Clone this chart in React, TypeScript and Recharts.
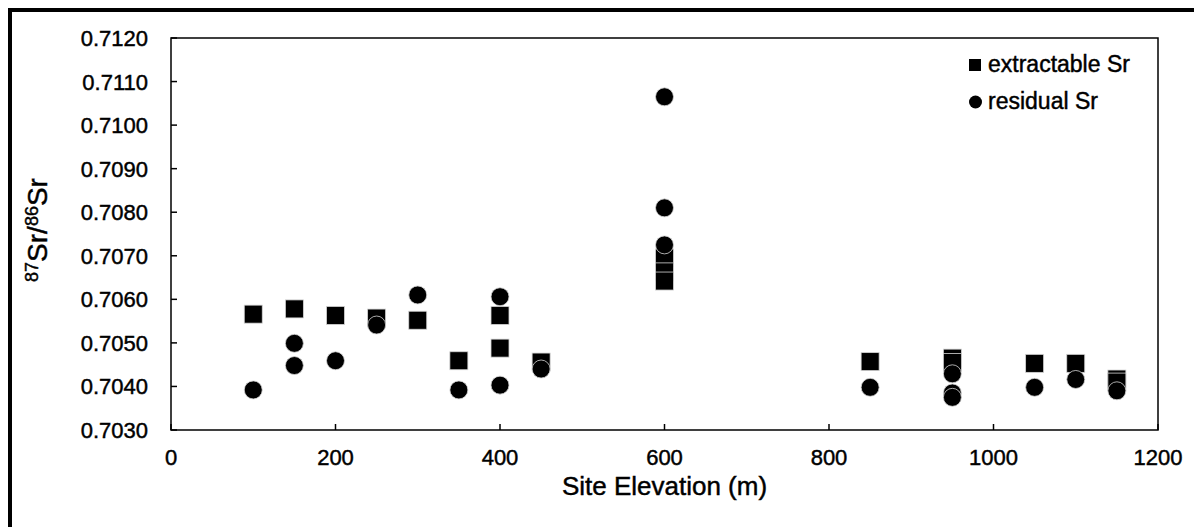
import React from "react";
import { ScatterChart, Scatter, XAxis, YAxis, ReferenceArea, Legend, Label } from "recharts";

// Extractable (leachable) Sr ratios per sampling site
const extractableElevation = [100, 150, 200, 250, 300, 350, 400, 400, 450, 600, 600, 600, 850, 950, 950, 1050, 1100, 1150, 1150];
const extractableRatio = [
  0.70566, 0.70578, 0.70563, 0.70557, 0.70552, 0.70459, 0.70563, 0.70488, 0.70456, 0.70695, 0.70663, 0.70642,
  0.70457, 0.70465, 0.70455, 0.70453, 0.70453, 0.70417, 0.7041,
];

// Residual (silicate) Sr ratios per sampling site
const residualElevation = [100, 150, 150, 200, 250, 300, 350, 400, 400, 450, 600, 600, 600, 850, 950, 950, 950, 1050, 1100, 1150];
const residualRatio = [
  0.70392, 0.70499, 0.70448, 0.70459, 0.70541, 0.7061, 0.70392, 0.70606, 0.70403, 0.7044, 0.71065, 0.7081, 0.70725,
  0.70398, 0.70429, 0.70385, 0.70375, 0.70398, 0.70416, 0.7039,
];

const elevationTicks = [0, 200, 400, 600, 800, 1000, 1200];
const ratioTicks = [0.703, 0.704, 0.705, 0.706, 0.707, 0.708, 0.709, 0.71, 0.711, 0.712];

const FONT = '"Liberation Sans", Arial, sans-serif';
// a hairline outline makes the glyphs a touch heavier
const TEXT_STROKE = { stroke: "#000", strokeWidth: 0.45 };

const extractable = extractableElevation.map((x, i) => ({ x, y: extractableRatio[i] }));
const residual = residualElevation.map((x, i) => ({ x, y: residualRatio[i] }));

const SquareDot = (p: any) => (
  <rect x={p.cx - 9} y={p.cy - 9} width={18} height={18} fill="#000" stroke="#d4d4d4" strokeWidth={0.8} />
);
const RoundDot = (p: any) => <circle cx={p.cx} cy={p.cy} r={9} fill="#000" stroke="#d4d4d4" strokeWidth={0.8} />;

// ticks point into the plot
const YTick = ({ x, y, payload }: any) => (
  <g>
    <line x1={x} x2={x + 6} y1={y} y2={y} stroke="#000" strokeWidth={1.5} />
    <text x={x - 23} y={y + 8} textAnchor="end" fontSize={22} fontFamily={FONT} fill="#000" {...TEXT_STROKE}>
      {Number(payload.value).toFixed(4)}
    </text>
  </g>
);

const XTick = ({ x, y, payload }: any) => (
  <g>
    <line x1={x} x2={x} y1={y} y2={y - 6} stroke="#000" strokeWidth={1.5} />
    <text x={x} y={y + 35} textAnchor="middle" fontSize={22} fontFamily={FONT} fill="#000" {...TEXT_STROKE}>
      {payload.value}
    </text>
  </g>
);

const YTitle = (props: any) => {
  const vb = props.viewBox;
  const cy = vb.y + vb.height / 2;
  return (
    <text
      transform={`translate(47, ${cy - 4}) rotate(-90)`}
      textAnchor="middle"
      fontSize={28}
      fontFamily={FONT}
      fill="#000"
      {...TEXT_STROKE}
    >
      <tspan fontSize={18} dy={-9}>87</tspan>
      <tspan dy={9}>Sr/</tspan>
      <tspan fontSize={18} dy={-9}>86</tspan>
      <tspan dy={9}>Sr</tspan>
    </text>
  );
};

const XTitle = (props: any) => {
  const vb = props.viewBox;
  return (
    <text
      x={vb.x + vb.width / 2}
      y={495}
      textAnchor="middle"
      fontSize={26}
      fontFamily={FONT}
      fill="#000"
      {...TEXT_STROKE}
    >
      Site Elevation (m)
    </text>
  );
};

const renderLegend = ({ payload }: any) => (
  <div style={{ fontFamily: FONT, fontSize: 23, color: "#000", WebkitTextStroke: "0.45px #000" }}>
    {(payload || []).map((entry: any) => (
      <div key={entry.value} style={{ display: "flex", alignItems: "center", height: 37 }}>
        <svg width={19} height={14} style={{ display: "block" }}>
          {entry.type === "square" ? (
            <rect x={0} y={1} width={12} height={12} fill="#000" />
          ) : (
            <circle cx={6.5} cy={7} r={6.5} fill="#000" />
          )}
        </svg>
        <span>{entry.value}</span>
      </div>
    ))}
  </div>
);

export default function App() {
  return (
    <div style={{ position: "relative", width: 1194, height: 527, background: "#fff" }}>
      <style>{"body{margin:0;overflow:hidden}"}</style>
      <div
        style={{
          position: "absolute",
          left: 8,
          top: 8,
          width: 1186,
          height: 519,
          borderTop: "4px solid #000",
          borderLeft: "4px solid #000",
          boxSizing: "border-box",
        }}
      />
      <div style={{ position: "absolute", left: 0, top: 0 }}>
        <ScatterChart width={1194} height={527} margin={{ top: 38, right: 36, bottom: 0, left: 0 }}>
          <XAxis
            type="number"
            dataKey="x"
            domain={[0, 1200]}
            ticks={elevationTicks}
            height={97}
            axisLine={false}
            tickLine={false}
            tickSize={0}
            tickMargin={0}
            tick={<XTick />}
          >
            <Label content={<XTitle />} />
          </XAxis>
          <YAxis
            type="number"
            dataKey="y"
            domain={[0.703, 0.712]}
            ticks={ratioTicks}
            width={171}
            axisLine={false}
            tickLine={false}
            tickSize={0}
            tickMargin={0}
            tick={<YTick />}
          >
            <Label content={<YTitle />} />
          </YAxis>
          <ReferenceArea
            x1={0}
            x2={1200}
            y1={0.703}
            y2={0.712}
            fill="none"
            fillOpacity={0}
            stroke="#000"
            strokeWidth={1.5}
            ifOverflow="visible"
          />
          <Legend
            layout="vertical"
            align="center"
            verticalAlign="middle"
            content={renderLegend}
            wrapperStyle={{ left: 969, top: 46, width: "auto", height: "auto" }}
          />
          <Scatter
            name="extractable Sr"
            data={extractable}
            legendType="square"
            shape={SquareDot}
            isAnimationActive={false}
          />
          <Scatter name="residual Sr" data={residual} legendType="circle" shape={RoundDot} isAnimationActive={false} />
        </ScatterChart>
      </div>
    </div>
  );
}
